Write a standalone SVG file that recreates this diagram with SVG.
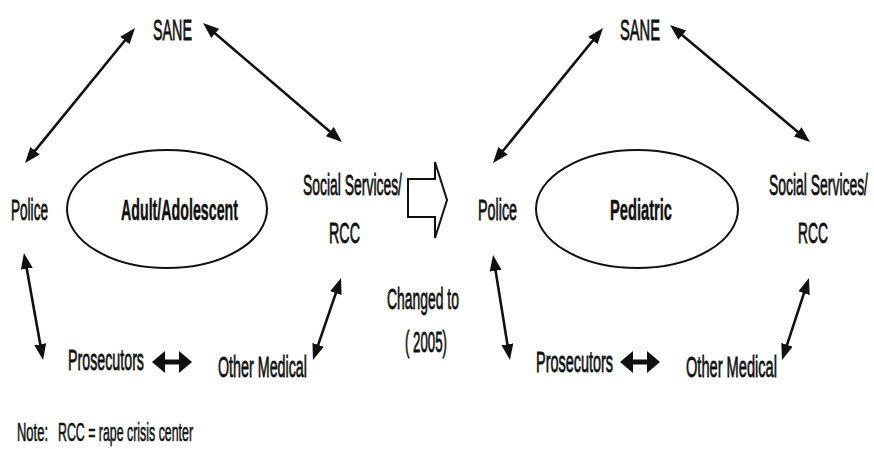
<svg xmlns="http://www.w3.org/2000/svg" width="874" height="449" viewBox="0 0 874 449">
  <style>
    .lbl { font-family: "Liberation Sans", Arial, sans-serif; font-size: 30px; fill: #111; stroke: #111; stroke-width: 0.8; }
    .bold { font-weight: bold; stroke-width: 0.5; }
    .note { font-family: "Liberation Sans", Arial, sans-serif; font-size: 25px; fill: #111; stroke: #111; stroke-width: 0.6; }
    .link { stroke: #111; stroke-width: 2.6; fill: none; marker-start: url(#tip); marker-end: url(#tip); }
    .hub { fill: #fff; stroke: #111; stroke-width: 2; }
  </style>
  <defs>
    <marker id="tip" markerUnits="userSpaceOnUse" markerWidth="17" markerHeight="13" refX="10" refY="6" orient="auto-start-reverse">
      <path d="M0,0 L16,6 L0,12 z" fill="#111"/>
    </marker>
  </defs>
  <rect width="874" height="449" fill="#fff"/>

  <!-- connectors: two-way links between agencies -->
  <g id="connectors">
    <!-- adult / adolescent model -->
    <line class="link" x1="28.8" y1="158.4" x2="131.2" y2="32.7"/>
    <line class="link" x1="207.6" y1="26.9" x2="337.4" y2="138.1"/>
    <line class="link" x1="25" y1="258.9" x2="42" y2="354.1"/>
    <line class="link" x1="314.9" y1="354.3" x2="339.1" y2="283.7"/>
    <polygon points="152,362 165,351 165,359.5 179,359.5 179,351 192,362 179,373 179,364.5 165,364.5 165,373" fill="#111"/>
    <!-- pediatric model -->
    <line class="link" x1="496.8" y1="158.4" x2="599.2" y2="32.7"/>
    <line class="link" x1="674.6" y1="28.8" x2="805.4" y2="138.2"/>
    <line class="link" x1="494" y1="260.9" x2="509" y2="354.1"/>
    <line class="link" x1="783.9" y1="354.3" x2="807.1" y2="283.7"/>
    <polygon points="620,362 633,351 633,359.5 647,359.5 647,351 660,362 647,373 647,364.5 633,364.5 633,373" fill="#111"/>
    <!-- transition arrow -->
    <polygon points="408,179 435,179 435,162 447,200 435,238 435,217 408,217" fill="#fff" stroke="#111" stroke-width="2"/>
  </g>

  <!-- labels are set in a condensed cut: each is squeezed horizontally to 46% -->
  <!-- left model -->
  <g id="adult-sane"><text class="lbl" transform="translate(153 40) scale(0.46 1)" textLength="84.8" lengthAdjust="spacingAndGlyphs">SANE</text></g>
  <g id="adult-police"><text class="lbl" transform="translate(11 220) scale(0.46 1)" textLength="80.4" lengthAdjust="spacingAndGlyphs">Police</text></g>
  <g id="adult-center">
    <ellipse class="hub" cx="167" cy="209" rx="100" ry="59"/>
    <text class="lbl bold" transform="translate(121 220) scale(0.46 1)" textLength="254.3" lengthAdjust="spacingAndGlyphs">Adult/Adolescent</text>
  </g>
  <g id="adult-social">
    <text class="lbl" transform="translate(303 195) scale(0.46 1)" textLength="215.2" lengthAdjust="spacingAndGlyphs">Social Services/</text>
    <text class="lbl" transform="translate(329 243) scale(0.46 1)" textLength="67.4" lengthAdjust="spacingAndGlyphs">RCC</text>
  </g>
  <g id="adult-prosecutors"><text class="lbl" transform="translate(68 370) scale(0.46 1)" textLength="165.2" lengthAdjust="spacingAndGlyphs">Prosecutors</text></g>
  <g id="adult-medical"><text class="lbl" transform="translate(218 377) scale(0.46 1)" textLength="193.5" lengthAdjust="spacingAndGlyphs">Other Medical</text></g>

  <!-- transition caption -->
  <g id="change">
    <text class="lbl" transform="translate(387 309) scale(0.46 1)" textLength="156.5" lengthAdjust="spacingAndGlyphs">Changed to</text>
    <text class="lbl" transform="translate(405 352) scale(0.46 1)" textLength="91.3" lengthAdjust="spacingAndGlyphs">( 2005)</text>
  </g>

  <!-- right model -->
  <g id="ped-sane"><text class="lbl" transform="translate(620 40) scale(0.46 1)" textLength="87" lengthAdjust="spacingAndGlyphs">SANE</text></g>
  <g id="ped-police"><text class="lbl" transform="translate(478 220) scale(0.46 1)" textLength="84.8" lengthAdjust="spacingAndGlyphs">Police</text></g>
  <g id="ped-center">
    <ellipse class="hub" cx="637" cy="209" rx="101" ry="59"/>
    <text class="lbl bold" transform="translate(610 220) scale(0.46 1)" textLength="134.8" lengthAdjust="spacingAndGlyphs">Pediatric</text>
  </g>
  <g id="ped-social">
    <text class="lbl" transform="translate(769 195) scale(0.46 1)" textLength="215.2" lengthAdjust="spacingAndGlyphs">Social Services/</text>
    <text class="lbl" transform="translate(798 243) scale(0.46 1)" textLength="65.2" lengthAdjust="spacingAndGlyphs">RCC</text>
  </g>
  <g id="ped-prosecutors"><text class="lbl" transform="translate(536 372) scale(0.46 1)" textLength="167.4" lengthAdjust="spacingAndGlyphs">Prosecutors</text></g>
  <g id="ped-medical"><text class="lbl" transform="translate(686 377) scale(0.46 1)" textLength="197.8" lengthAdjust="spacingAndGlyphs">Other Medical</text></g>

  <!-- footnote -->
  <g id="note">
    <text class="note" transform="translate(17 441) scale(0.5 1)" textLength="62" lengthAdjust="spacingAndGlyphs">Note:</text>
    <text class="note" transform="translate(58 441) scale(0.5 1)" textLength="270" lengthAdjust="spacingAndGlyphs">RCC = rape crisis center</text>
  </g>
</svg>
